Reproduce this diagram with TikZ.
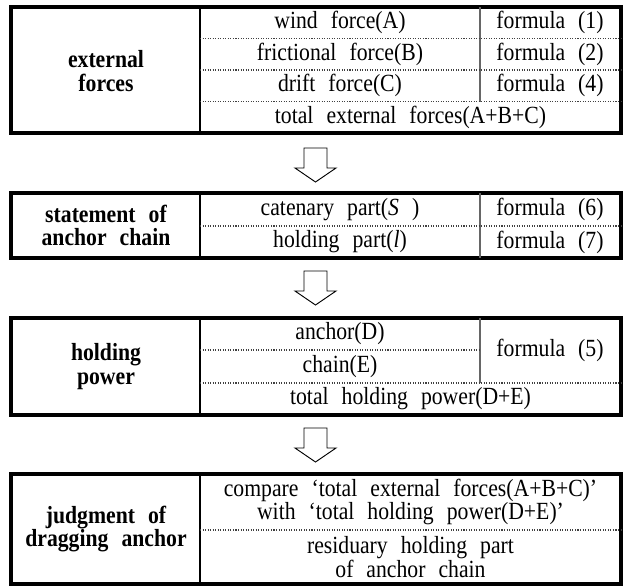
\documentclass[tikz,border=0pt]{standalone}
\usepackage{fontspec}
\setmainfont[FakeStretch=0.88,WordSpace=2.4]{Liberation Serif}
\begin{document}
\begin{tikzpicture}[x=0.75pt,y=-0.75pt,
  outer/.style={draw=black,line width=2.3pt},
  leftdiv/.style={draw=black,line width=1.1pt},
  formdiv/.style={draw=black!60,line width=0.8pt},
  dotline/.style={draw=black!75,line width=0.8pt,dash pattern=on 0.8pt off 1.1pt},
  txt/.style={inner sep=0pt,font=\fontsize{18.5}{19}\selectfont},
  head/.style={inner sep=0pt,align=center,font=\fontsize{18.5}{17.5}\selectfont\bfseries},
  cell2/.style={inner sep=0pt,align=center,font=\fontsize{18.5}{17}\selectfont},
  blockarrow/.style={draw=black,line width=0.7pt,fill=white}]
\useasboundingbox (0,0) rectangle (625,586);
% ---------- box 1 ----------
\draw[outer] (11,7) rectangle (621,133);
\draw[leftdiv] (200,7) -- (200,133);
\draw[formdiv] (480,7) -- (480,101.5);
\draw[dotline] (200,38.5) -- (621,38.5);
\draw[dotline] (200,70) -- (621,70);
\draw[dotline] (200,101.5) -- (621,101.5);
\node[head] (ext) at (106,71) {external\\forces};
\node[txt] (wind) at (340,22.75) {wind force(A)};
\node[txt] (fric) at (340,54.25) {frictional force(B)};
\node[txt] (drift) at (340,85.75) {drift force(C)};
\node[txt] (f1) at (550,22.75) {formula (1)};
\node[txt] (f2) at (550,54.25) {formula (2)};
\node[txt] (f4) at (550,85.75) {formula (4)};
\node[txt] (totext) at (410.5,117.25) {total external forces(A+B+C)};
% ---------- arrow 1 ----------
\draw[blockarrow] (304,148) -- (327,148) -- (327,168) -- (336,168) -- (315.5,182) -- (295,168) -- (304,168) -- cycle;
% ---------- box 2 ----------
\draw[outer] (11,193) rectangle (621,258);
\draw[leftdiv] (200,193) -- (200,258);
\draw[formdiv] (480,193) -- (480,258);
\draw[dotline] (200,226) -- (621,226);
\node[head] (stmt) at (106,225.5) {statement of\\anchor chain};
\node[txt] (cat) at (340,209.5) {catenary part(\textit{S} )};
\node[txt] (hold) at (340,242) {holding part(\textit{l})};
\node[txt] (f6) at (550,209.5) {formula (6)};
\node[txt] (f7) at (550,242) {formula (7)};
% ---------- arrow 2 ----------
\draw[blockarrow] (304,271) -- (327,271) -- (327,291) -- (336,291) -- (315.5,305) -- (295,291) -- (304,291) -- cycle;
% ---------- box 3 ----------
\draw[outer] (11,318) rectangle (621,415);
\draw[leftdiv] (200,318) -- (200,415);
\draw[formdiv] (480,318) -- (480,383);
\draw[dotline] (200,350) -- (480,350);
\draw[dotline] (200,383) -- (621,383);
\node[head] (hp) at (106,366.5) {holding\\power};
\node[txt] (anc) at (340,334) {anchor(D)};
\node[txt] (chn) at (340,366.5) {chain(E)};
\node[txt] (f5) at (550,350.5) {formula (5)};
\node[txt] (tothp) at (410.5,399) {total holding power(D+E)};
% ---------- arrow 3 ----------
\draw[blockarrow] (304,428) -- (327,428) -- (327,448) -- (336,448) -- (315.5,462) -- (295,448) -- (304,448) -- cycle;
% ---------- box 4 ----------
\draw[outer] (11,474) rectangle (621,584);
\draw[leftdiv] (200,474) -- (200,584);
\draw[dotline] (200,530) -- (621,530);
\node[head] (judg) at (106,529) {judgment of\\dragging anchor};
\node[cell2] (cmp) at (410.5,502) {compare ‘total external forces(A+B+C)’\\with ‘total holding power(D+E)’};
\node[cell2] (res) at (410.5,557) {residuary holding part\\of anchor chain};
\end{tikzpicture}
\end{document}
